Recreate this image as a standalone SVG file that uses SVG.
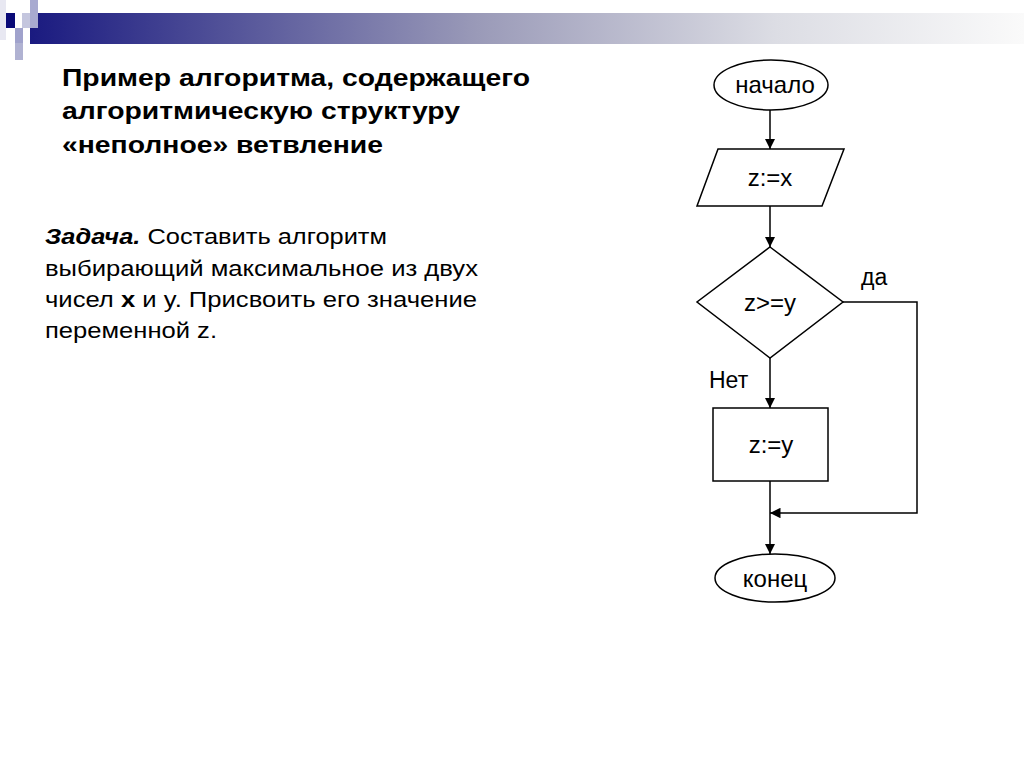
<svg xmlns="http://www.w3.org/2000/svg" width="1024" height="767" viewBox="0 0 1024 767">
<style>
.s{fill:#fff;stroke:#000;stroke-width:1.5}
.c{fill:none;stroke:#000;stroke-width:1.5}
text{font-family:"Liberation Sans",Arial,sans-serif;fill:#000}
.t{font-size:24px;text-anchor:middle}
.h{font-size:23px;font-weight:bold}
.b{font-size:22px}
</style>
<defs>
<linearGradient id="g" x1="0" x2="1" y1="0" y2="0">
<stop offset="0" stop-color="#1a1a80"/><stop offset="0.45" stop-color="#9a9ab8"/><stop offset="0.75" stop-color="#dcdde4"/><stop offset="1" stop-color="#fafafa"/>
</linearGradient>
<marker id="a" viewBox="0 0 10 10" refX="10" refY="5" markerWidth="7" markerHeight="7" orient="auto"><path d="M0,0L10,5L0,10z" fill="#000"/></marker>
</defs>
<rect x="30" y="13" width="994" height="31" fill="url(#g)"/>
<rect x="6" y="13" width="9" height="15" fill="#0a0a78"/>
<rect x="22" y="13" width="9" height="15" fill="#c4c6de"/>
<rect x="30" y="0" width="8" height="28" fill="#a8aad0"/>
<rect x="15" y="28" width="8" height="15" fill="#a0a2cc"/>
<rect x="15" y="43" width="8" height="17" fill="#b0b2d2"/>
<rect x="0" y="0" width="6" height="40" fill="#e8e8f2"/>
<text class="h" x="62" y="86" textLength="468" lengthAdjust="spacingAndGlyphs">Пример алгоритма, содержащего</text>
<text class="h" x="62" y="119" textLength="398" lengthAdjust="spacingAndGlyphs">алгоритмическую структуру</text>
<text class="h" x="62" y="153" textLength="321" lengthAdjust="spacingAndGlyphs">«неполное» ветвление</text>
<text class="b" x="45" y="244" textLength="342" lengthAdjust="spacingAndGlyphs"><tspan font-weight="bold" font-style="italic">Задача.</tspan> Составить алгоритм</text>
<text class="b" x="45" y="276" textLength="433" lengthAdjust="spacingAndGlyphs">выбирающий максимальное из двух</text>
<text class="b" x="45" y="307" textLength="432" lengthAdjust="spacingAndGlyphs">чисел <tspan font-weight="bold">x</tspan> и y. Присвоить его значение</text>
<text class="b" x="45" y="338" textLength="172" lengthAdjust="spacingAndGlyphs">переменной z.</text>
<g id="connectors">
<line class="c" x1="770" y1="110" x2="770" y2="149" marker-end="url(#a)"/>
<line class="c" x1="770" y1="206" x2="770" y2="247" marker-end="url(#a)"/>
<line class="c" x1="770" y1="358" x2="770" y2="408" marker-end="url(#a)"/>
<line class="c" x1="770" y1="481" x2="770" y2="554" marker-end="url(#a)"/>
<polyline class="c" points="843,302 917,302 917,513 770,513" marker-end="url(#a)"/>
<text x="861" y="285" font-size="23">да</text>
<text x="709" y="388" font-size="23">Нет</text>
</g>
<g id="start"><ellipse class="s" cx="771" cy="85" rx="57" ry="25"/><text class="t" x="775" y="93">начало</text></g>
<g id="input"><polygon class="s" points="718,149 844,149 822,206 697,206"/><text class="t" x="770" y="186">z:=x</text></g>
<g id="cond"><polygon class="s" points="770,247 843,302 770,358 697,302"/><text class="t" x="770" y="311">z&gt;=y</text></g>
<g id="assign"><rect class="s" x="713" y="408" width="115" height="73"/><text class="t" x="771" y="453">z:=y</text></g>
<g id="end"><ellipse class="s" cx="775" cy="578" rx="60" ry="24"/><text class="t" x="775" y="587">конец</text></g>
</svg>
